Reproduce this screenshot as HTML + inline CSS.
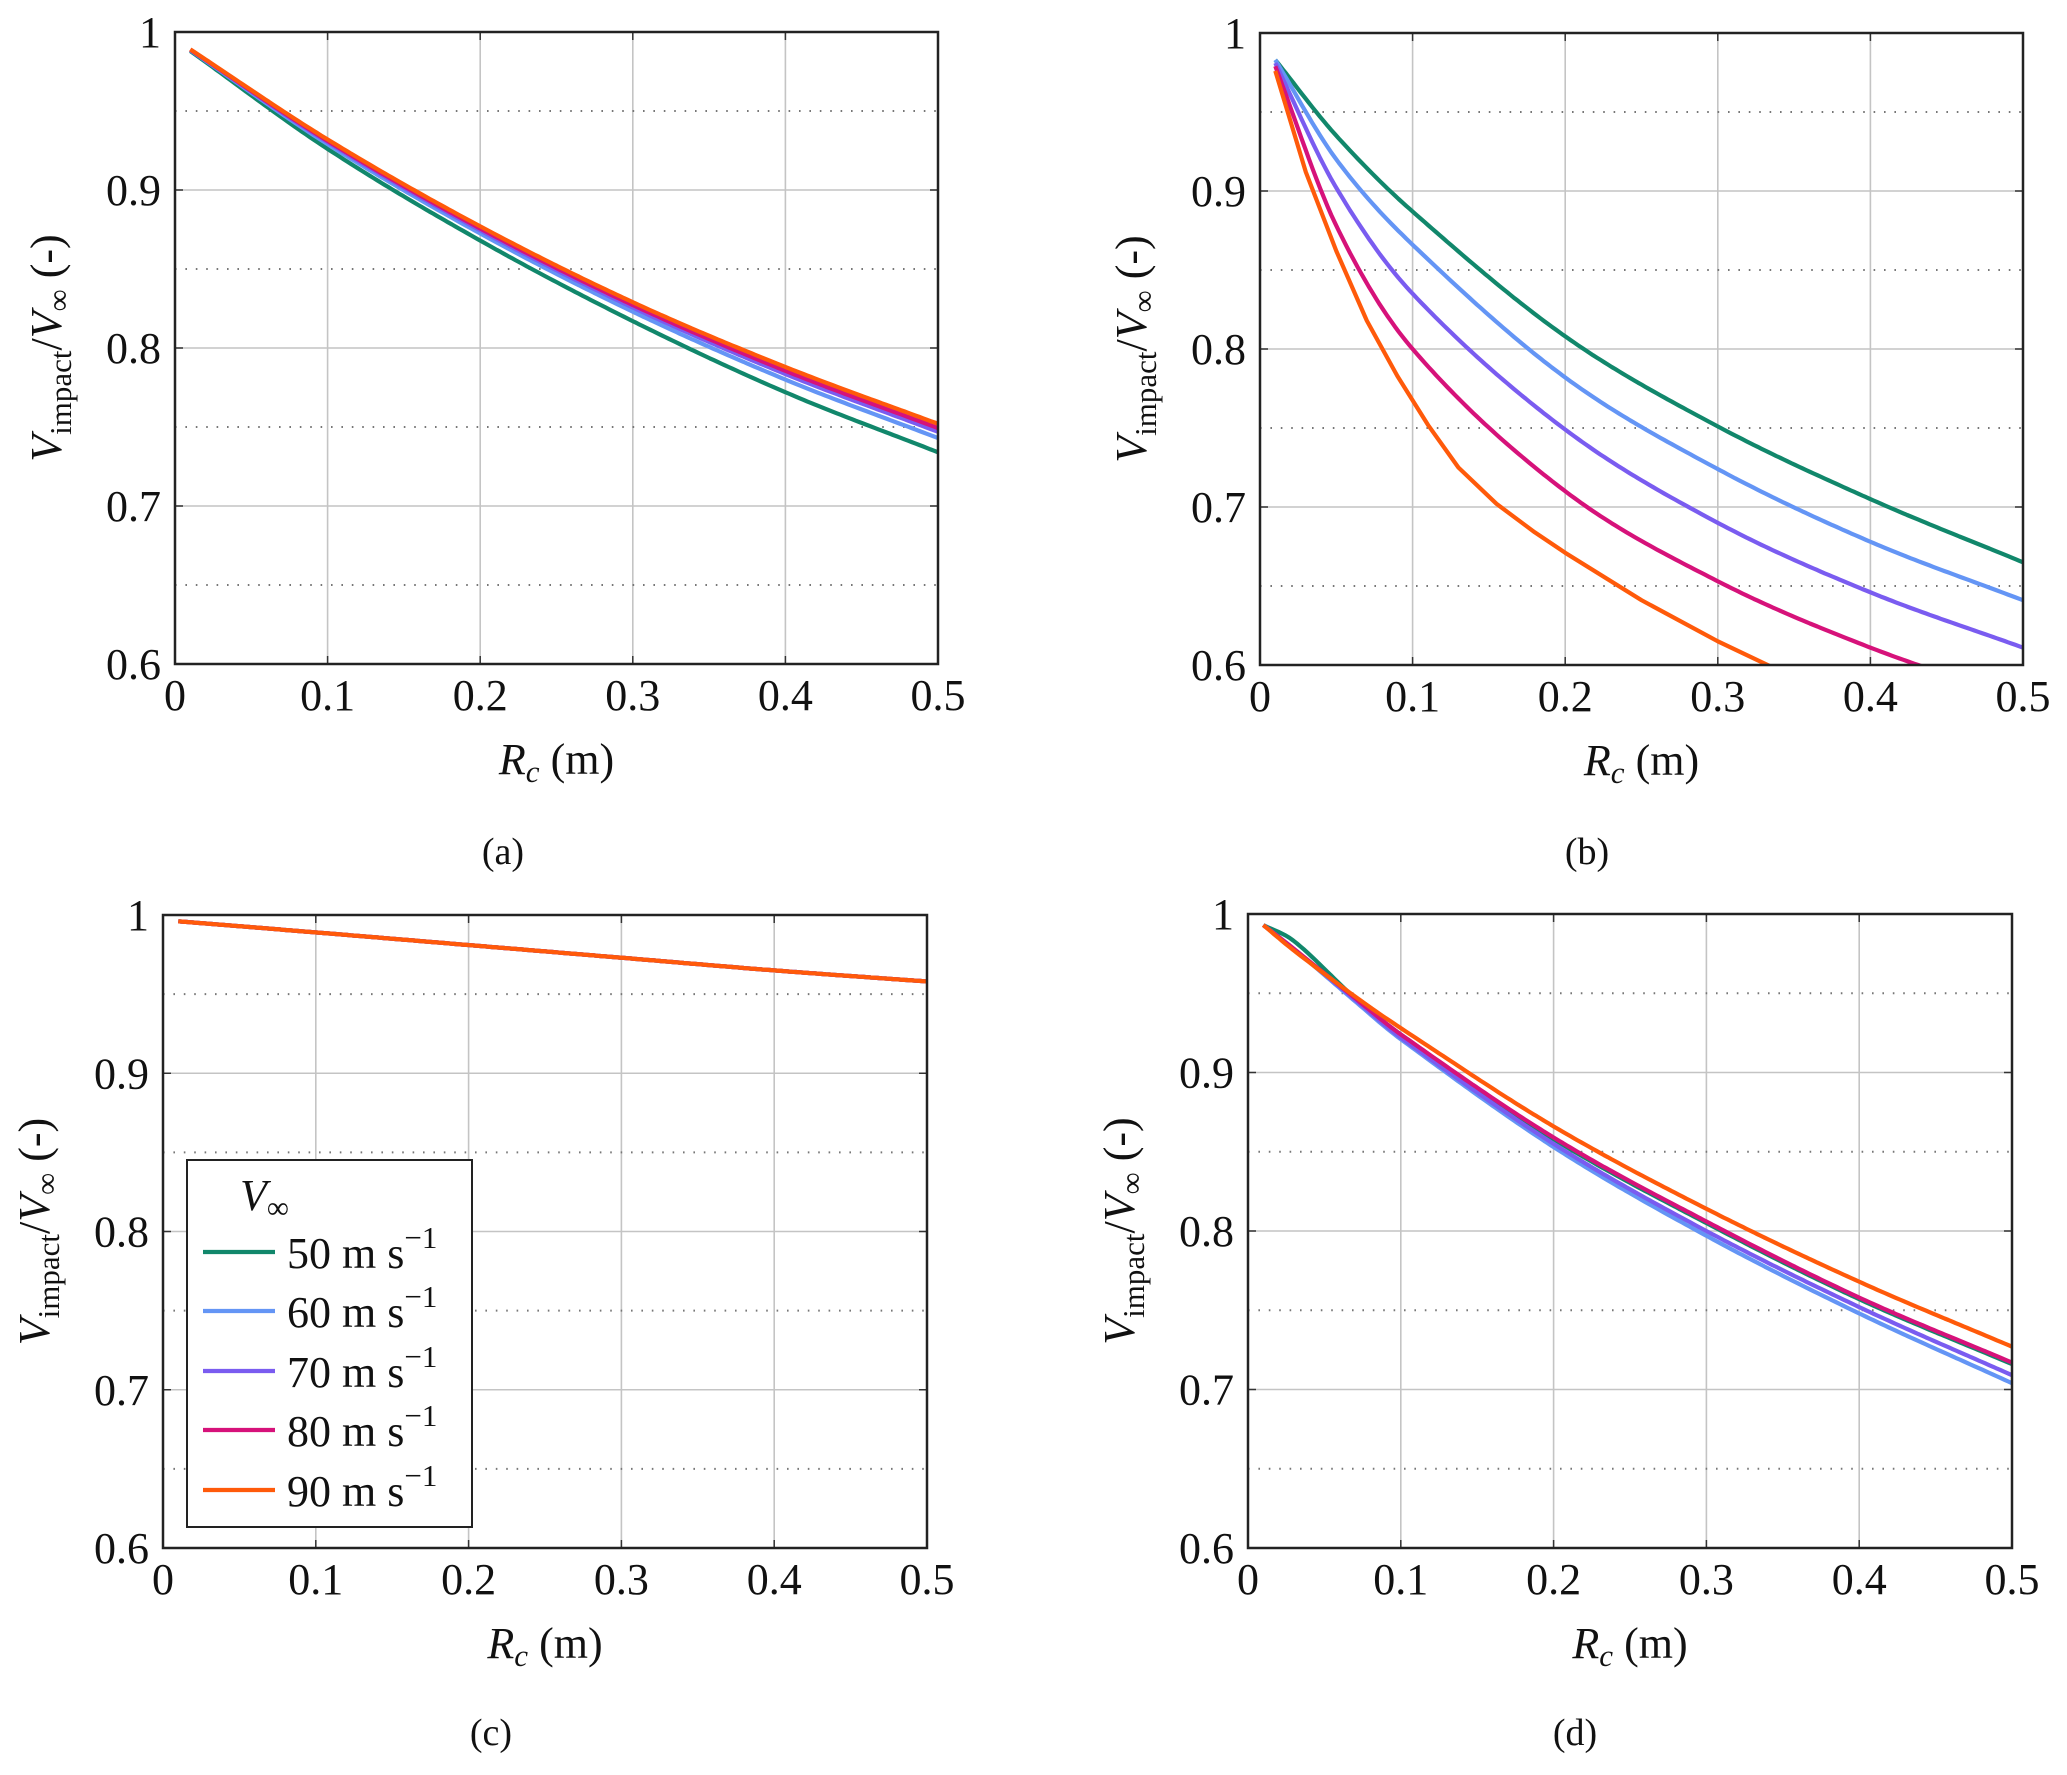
<!DOCTYPE html>
<html><head><meta charset="utf-8"><style>
html,body{margin:0;padding:0;background:#fff;}
svg text{font-family:"Liberation Serif",serif;fill:#111;}
</style></head><body>
<svg id="s" width="2067" height="1770" xmlns="http://www.w3.org/2000/svg"></svg>
<script>
const S=document.getElementById('s');
const NS='http://www.w3.org/2000/svg';
function el(t,a,p){const e=document.createElementNS(NS,t);for(const k in a)e.setAttribute(k,a[k]);(p||S).appendChild(e);return e;}
const C={g:'#11876b',b:'#6495f5',p:'#7a5cf0',m:'#d6127a',o:'#ff5a0a'};
function interp(pts,x){
  let i=0;while(i<pts.length-2&&x>pts[i+1][0])i++;
  const p0=pts[Math.max(i-1,0)],p1=pts[i],p2=pts[i+1],p3=pts[Math.min(i+2,pts.length-1)];
  const t=(x-p1[0])/(p2[0]-p1[0]);
  const m1=(p2[1]-p0[1])/(p2[0]-p0[0])*(p2[0]-p1[0]);
  const m2=(p3[1]-p1[1])/(p3[0]-p1[0])*(p2[0]-p1[0]);
  const t2=t*t,t3=t2*t;
  return (2*t3-3*t2+1)*p1[1]+(t3-2*t2+t)*m1+(-2*t3+3*t2)*p2[1]+(t3-t2)*m2;
}
function mix(a,b,f){return a.map((p,i)=>[p[0],p[1]+(b[i][1]-p[1])*f]);}
let cid=0;
function panel(L,T,R,B,series,cap,capx,capy,legend){
  const W=R-L,H=B-T;
  const X=x=>L+x/0.5*W, Y=y=>T+(1-y)/0.4*H;
  for(let i=1;i<5;i++){el('line',{x1:X(i*0.1),x2:X(i*0.1),y1:T,y2:B,stroke:'#c4c4c4','stroke-width':1.6});}
  for(let i=1;i<4;i++){el('line',{x1:L,x2:R,y1:Y(0.6+i*0.1),y2:Y(0.6+i*0.1),stroke:'#c4c4c4','stroke-width':1.6});}
  for(let i=0;i<4;i++){const y=Y(0.65+i*0.1);el('line',{x1:L,x2:R,y1:y,y2:y,stroke:'#777','stroke-width':2,'stroke-dasharray':'1.6 8.8'});}
  for(let i=1;i<5;i++){el('line',{x1:X(i*0.1),x2:X(i*0.1),y1:B,y2:B-8,stroke:'#333','stroke-width':1.5});el('line',{x1:X(i*0.1),x2:X(i*0.1),y1:T,y2:T+8,stroke:'#333','stroke-width':1.5});}
  for(let i=1;i<4;i++){const y=Y(0.6+i*0.1);el('line',{x1:L,x2:L+8,y1:y,y2:y,stroke:'#333','stroke-width':1.5});el('line',{x1:R,x2:R-8,y1:y,y2:y,stroke:'#333','stroke-width':1.5});}
  const cp=el('clipPath',{id:'c'+(++cid)});el('rect',{x:L,y:T,width:W,height:H},cp);
  const g=el('g',{'clip-path':'url(#c'+cid+')'});
  for(const [col,pts,lin] of series){
    let d='';
    if(lin){pts.forEach((p,k)=>{d+=(k?'L':'M')+X(p[0]).toFixed(1)+' '+Y(p[1]).toFixed(1);});}
    else{const x0=pts[0][0],x1=pts[pts.length-1][0];
    for(let k=0;k<=200;k++){const x=x0+(x1-x0)*k/200;const y=interp(pts,x);d+=(k?'L':'M')+X(x).toFixed(1)+' '+Y(y).toFixed(1);}}
    el('path',{d:d,fill:'none',stroke:C[col],'stroke-width':4.2,'stroke-linejoin':'round'},g);
  }
  el('rect',{x:L,y:T,width:W,height:H,fill:'none',stroke:'#222','stroke-width':2.5});
  const xl=['0','0.1','0.2','0.3','0.4','0.5'];
  xl.forEach((t,i)=>{const e=el('text',{x:X(i*0.1),y:B+46,'font-size':44,'text-anchor':'middle'});e.textContent=t;});
  ['0.6','0.7','0.8','0.9','1'].forEach((t,i)=>{const e=el('text',{x:L-14,y:Y(0.6+i*0.1)+15,'font-size':44,'text-anchor':'end'});e.textContent=t;});
  const xt=el('text',{x:(L+R)/2,y:B+110,'font-size':44,'text-anchor':'middle'});
  xt.innerHTML='<tspan font-style="italic">R</tspan><tspan font-style="italic" font-size="31" dy="8">c</tspan><tspan dy="-8"> (m)</tspan>';
  const yt=el('text',{x:0,y:0,'font-size':44,'text-anchor':'middle',transform:`translate(${L-114},${(T+B)/2}) rotate(-90)`});
  yt.innerHTML='<tspan font-style="italic">V</tspan><tspan font-size="31" dy="10">impact</tspan><tspan dy="-10">/</tspan><tspan font-style="italic">V</tspan><tspan font-size="31" dy="8">∞</tspan><tspan dy="-8"> (-)</tspan>';
  const ct=el('text',{x:capx,y:capy,'font-size':38,'text-anchor':'middle'});ct.textContent=cap;
  if(legend){
    el('rect',{x:187,y:1160,width:285,height:367,fill:'#fff',stroke:'#222','stroke-width':2});
    const tt=el('text',{x:240,y:1210,'font-size':44});tt.innerHTML='<tspan font-style="italic">V</tspan><tspan font-size="31" dy="8">∞</tspan>';
    const ys=[1252,1311,1371,1430,1490],cols=['g','b','p','m','o'],lab=['50','60','70','80','90'];
    ys.forEach((y,i)=>{el('line',{x1:203,x2:275,y1:y,y2:y,stroke:C[cols[i]],'stroke-width':4.2});
      const e=el('text',{x:287,y:y+16,'font-size':44});e.innerHTML=lab[i]+' m s<tspan font-size="31" dy="-20">−1</tspan>';});
  }
}
const aG=[[0.01,0.988],[0.1,0.926],[0.2,0.868],[0.3,0.817],[0.4,0.772],[0.5,0.734]];
const aO=[[0.01,0.989],[0.1,0.932],[0.2,0.877],[0.3,0.829],[0.4,0.788],[0.5,0.752]];
panel(175,32,938,664,[['g',aG],['b',mix(aG,aO,0.5)],['p',mix(aG,aO,0.72)],['m',mix(aG,aO,0.85)],['o',aO]],'(a)',503,864);
panel(1260,33,2023,665,[
 ['g',[[0.01,0.983],[0.05,0.935],[0.1,0.887],[0.2,0.808],[0.3,0.751],[0.4,0.705],[0.5,0.665]]],
 ['b',[[0.01,0.983],[0.05,0.92],[0.1,0.866],[0.2,0.782],[0.3,0.724],[0.4,0.678],[0.5,0.641]]],
 ['p',[[0.01,0.981],[0.05,0.902],[0.1,0.835],[0.2,0.749],[0.3,0.690],[0.4,0.646],[0.5,0.611]]],
 ['m',[[0.01,0.979],[0.05,0.878],[0.1,0.800],[0.2,0.710],[0.3,0.653],[0.4,0.611],[0.5,0.578]]],
 ['o',[[0.01,0.976],[0.03,0.912],[0.05,0.862],[0.07,0.818],[0.09,0.783],[0.11,0.752],[0.13,0.725],[0.155,0.702],[0.18,0.684],[0.2,0.671],[0.25,0.641],[0.3,0.615],[0.35,0.592]],true]
],'(b)',1587,864);
const cL=[[0.01,0.996],[0.1,0.989],[0.2,0.981],[0.3,0.973],[0.4,0.965],[0.5,0.958]];
panel(163,915,927,1548,[['g',cL],['b',cL],['p',cL],['m',cL],['o',cL]],'(c)',491,1745,true);
const dG=[[0.01,0.993],[0.03,0.983],[0.07,0.947],[0.1,0.924],[0.2,0.858],[0.3,0.805],[0.4,0.757],[0.5,0.716]];
panel(1248,914,2012,1548,[
 ['g',dG],
 ['b',[[0.01,0.993],[0.03,0.978],[0.07,0.945],[0.1,0.921],[0.2,0.853],[0.3,0.797],[0.4,0.748],[0.5,0.704]]],
 ['p',[[0.01,0.993],[0.03,0.978],[0.07,0.946],[0.1,0.922],[0.2,0.855],[0.3,0.800],[0.4,0.752],[0.5,0.709]]],
 ['m',[[0.01,0.993],[0.03,0.978],[0.07,0.947],[0.1,0.924],[0.2,0.859],[0.3,0.806],[0.4,0.758],[0.5,0.717]]],
 ['o',[[0.01,0.993],[0.03,0.977],[0.07,0.948],[0.1,0.928],[0.2,0.866],[0.3,0.814],[0.4,0.768],[0.5,0.727]]]
],'(d)',1575,1745);
</script>
</body></html>
